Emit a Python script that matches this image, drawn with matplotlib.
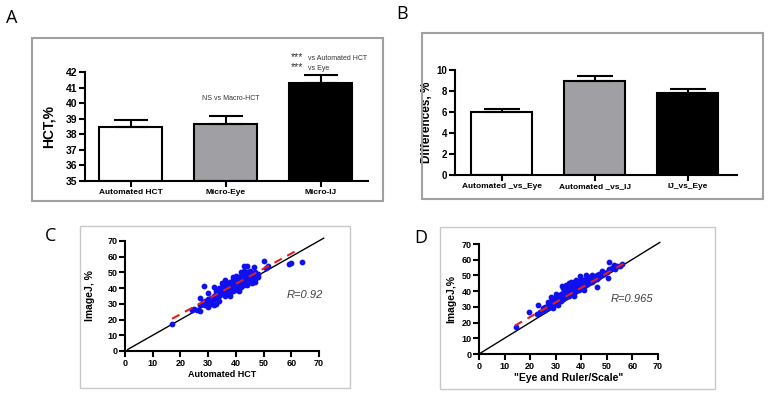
import matplotlib
matplotlib.use("Agg")
import matplotlib.pyplot as plt
from matplotlib.patches import Rectangle
import numpy as np

plt.rcParams['font.family'] = ['Liberation Sans', 'DejaVu Sans']

# panel A data
hct_groups = ['Automated HCT', 'Micro-Eye', 'Micro-IJ']
hct_means = [38.45, 38.65, 41.3]
hct_err = [0.45, 0.5, 0.5]

# panel B data
diff_groups = ['Automated _vs_Eye', 'Automated _vs_IJ', 'IJ_vs_Eye']
diff_means = [6.0, 9.0, 7.8]
diff_err = [0.3, 0.4, 0.4]

bar_colors = ['white', '#a0a0a4', 'black']

# panel C data: automated HCT vs ImageJ
c_x = [17, 24, 25, 26, 27, 27, 28, 28, 29, 29, 30, 30, 30, 31, 31, 31, 32, 32, 32, 33,
       33, 33, 34, 34, 34, 34, 35, 35, 35, 36, 36, 36, 36, 37, 37, 37, 37, 38, 38, 38,
       38, 39, 39, 39, 39, 40, 40, 40, 40, 41, 41, 41, 41, 42, 42, 42, 42, 42, 43, 43,
       43, 43, 43, 44, 44, 44, 44, 44, 45, 45, 45, 45, 46, 46, 46, 47, 47, 47, 48, 48,
       42.8, 46.6, 50, 51, 51.5, 59, 60, 64, 28.5, 27, 32, 30, 36, 40, 39, 35, 33, 38,
       41, 44, 46, 47]
c_y = [17, 26, 27, 26, 25.5, 29, 30, 31, 29, 32, 28, 31, 33, 30, 32, 34, 29.5, 33, 35, 34,
       36, 38, 32, 35, 37, 40, 36, 38, 41, 35, 37, 39, 42, 36, 38, 40, 43, 37, 39, 41,
       44, 38, 40, 42, 45, 39, 41, 43, 46, 40, 42, 44, 47, 41, 43, 45, 48, 50, 42, 44,
       46, 49, 51, 43, 45, 47, 50, 54, 44, 46, 48, 51, 45, 47, 49, 46, 48, 50, 47, 49,
       54, 53.7, 57, 53, 54, 55.2, 55.8, 56.7, 41.4, 34, 41, 37, 45, 48, 47, 43, 30, 35,
       38, 42, 43, 44]
c_fit_x = [17, 61.5]
c_fit_y = [20.5, 63.5]

# panel D data: eye and ruler vs ImageJ
d_x = [14.3, 19.6, 22.7, 23, 24, 25, 25, 26, 26, 27, 27, 27, 28, 28, 28, 29, 29, 29, 30, 30,
       30, 31, 31, 31, 32, 32, 32, 32.5, 33, 33, 33, 33, 34, 34, 34, 34, 35, 35, 35, 35,
       36, 36, 36, 36, 37, 37, 37, 37, 38, 38, 38, 38, 39, 39, 39, 39.6, 40, 40, 40, 40,
       41, 41, 41, 42, 42, 42, 42, 43, 43, 43, 44, 44, 44, 45, 45, 46, 46, 46, 47, 47,
       48, 48, 49, 50, 50.5, 51, 51, 52, 52.8, 53, 54, 55, 56, 30, 28, 36, 34, 31, 29, 37, 41]
d_y = [17, 26.6, 25.3, 31.3, 27, 28, 29.5, 28, 30, 29, 31, 33, 30, 32, 34, 31, 33, 35, 32, 34,
       36, 33, 35, 37, 34, 36, 38, 43.4, 35, 37, 39, 42, 36, 38, 40, 44, 37, 39, 41, 45,
       38, 40, 42, 44, 39, 41, 43, 46, 40, 42, 44, 47, 41, 43, 45, 49.4, 42, 44, 46, 48,
       43, 45, 47, 44, 46, 48, 50, 45, 47, 49, 46, 48, 50, 47, 49, 42.5, 48, 50, 49, 51,
       50, 53, 51, 52, 48.3, 58.3, 54, 55, 56.8, 54, 56, 56, 57, 38, 36, 46, 42, 31, 29, 37, 41]
d_fit_x = [14, 56.5]
d_fit_y = [18, 57.5]

W, H = 774, 400
fig = plt.figure(figsize=(W / 100, H / 100), dpi=100)


def box(x0, y0, x1, y1, color, lw):
    r = Rectangle((x0 / W, 1 - y1 / H), (x1 - x0) / W, (y1 - y0) / H,
                  transform=fig.transFigure, fill=False, edgecolor=color, linewidth=lw)
    fig.patches.append(r)


def axes_px(left, top, right, bottom):
    return fig.add_axes([left / W, 1 - bottom / H, (right - left) / W, (bottom - top) / H])


def style(ax, size):
    for s in ['top', 'right']:
        ax.spines[s].set_visible(False)
    for s in ['left', 'bottom']:
        ax.spines[s].set_linewidth(1.5)
    ax.tick_params(width=1.5, length=4, labelsize=size, pad=1.5)
    for lab in ax.get_xticklabels() + ax.get_yticklabels():
        lab.set_fontweight('bold')


def ylabel_at(ax, text, px, size):
    ax.set_ylabel(text, fontsize=size, fontweight='bold')
    x0 = ax.get_position().x0 * W
    ax.yaxis.set_label_coords(-(x0 - px) / (ax.get_position().width * W), 0.5)


box(32, 38, 383, 201, '#a0a0a0', 1.5)
box(422, 33, 763, 199, '#a0a0a0', 1.5)
box(80, 226, 350, 388, '#c8c8c8', 1.0)
box(440, 227, 715, 389, '#c8c8c8', 1.0)

for lab, (px, py) in zip('ABCD', [(12, 18), (402, 14), (51, 236), (421, 238)]):
    fig.text(px / W, 1 - py / H, lab, fontsize=13, ha='center', va='center',
             family=['Open Sans', 'DejaVu Sans'])

# panel A
axA = axes_px(85, 72, 368, 181)
pos = np.arange(3)
axA.bar(pos, [m - 35 for m in hct_means], bottom=35, width=0.66, color=bar_colors,
        edgecolor='black', linewidth=1.5)
axA.errorbar(pos, hct_means, yerr=[[0, 0, 0], hct_err], fmt='none', ecolor='black',
             elinewidth=1.5, capsize=12, capthick=1.5)
axA.set_ylim(35, 42)
axA.set_xlim(-0.48, 2.5)
axA.set_yticks(range(35, 43))
axA.set_xticks(pos)
axA.set_xticklabels(hct_groups)
style(axA, 7.5)
ylabel_at(axA, 'HCT,%', 56, 10)
for lab in axA.get_xticklabels():
    lab.set_fontsize(6)
axA.text(1.06, 40.27, 'NS vs Macro-HCT', fontsize=5, ha='center', va='center', color='#333333')
axA.text(1.69, 42.96, '***', fontsize=7.5, ha='left', va='center', color='#333333')
axA.text(1.87, 42.88, 'vs Automated HCT', fontsize=5, ha='left', va='center', color='#333333')
axA.text(1.69, 42.32, '***', fontsize=7.5, ha='left', va='center', color='#333333')
axA.text(1.87, 42.22, 'vs Eye', fontsize=5, ha='left', va='center', color='#333333')

# panel B
axB = axes_px(455, 70, 737, 175)
axB.bar(pos, diff_means, width=0.65, color=bar_colors, edgecolor='black', linewidth=1.5)
axB.errorbar(pos, diff_means, yerr=[[0, 0, 0], diff_err], fmt='none', ecolor='black',
             elinewidth=1.5, capsize=13, capthick=1.5)
axB.set_ylim(0, 10)
axB.set_xlim(-0.5, 2.53)
axB.set_yticks(range(0, 11, 2))
axB.set_xticks(pos)
axB.set_xticklabels(diff_groups)
style(axB, 7)
ylabel_at(axB, 'Differences, %', 433, 8.5)
for lab in axB.get_xticklabels():
    lab.set_fontsize(6)

# panel C
axC = axes_px(125, 241, 319, 351)
axC.plot([1, 71.7], [1, 71.8], color='black', linewidth=1, clip_on=False)
axC.scatter(c_x, c_y, s=10, color='#1010ee', zorder=3, clip_on=False)
axC.plot(c_fit_x, c_fit_y, color='#e02020', linestyle='--', linewidth=1.5, dashes=(4, 3), zorder=4)
axC.set_xlim(0, 70)
axC.set_ylim(0, 70)
axC.set_xticks(range(0, 71, 10))
axC.set_yticks(range(0, 71, 10))
axC.set_xlabel('Automated HCT', fontsize=6.5, fontweight='bold', labelpad=2)
style(axC, 6.5)
ylabel_at(axC, 'ImageJ, %', 95, 7.5)
axC.text(58.5, 35.6, 'R=0.92', fontsize=8, style='italic', ha='left', va='center',
         color='#404040')

# panel D
axD = axes_px(479, 244, 658, 354)
axD.plot([0, 70.7], [0, 71], color='black', linewidth=1, clip_on=False)
axD.scatter(d_x, d_y, s=10, color='#1010ee', zorder=3, clip_on=False)
axD.plot(d_fit_x, d_fit_y, color='#e02020', linestyle='--', linewidth=1.5, dashes=(4, 3), zorder=4)
axD.set_xlim(0, 70)
axD.set_ylim(0, 70)
axD.set_xticks(range(0, 71, 10))
axD.set_yticks(range(0, 71, 10))
axD.set_xlabel('"Eye and Ruler/Scale"', fontsize=7.5, fontweight='bold', labelpad=2)
style(axD, 6.5)
ylabel_at(axD, 'ImageJ,%', 456, 7.5)
axD.text(51.6, 35, 'R=0.965', fontsize=8, style='italic', ha='left', va='center',
         color='#404040')

fig.savefig('out.png', dpi=100)
